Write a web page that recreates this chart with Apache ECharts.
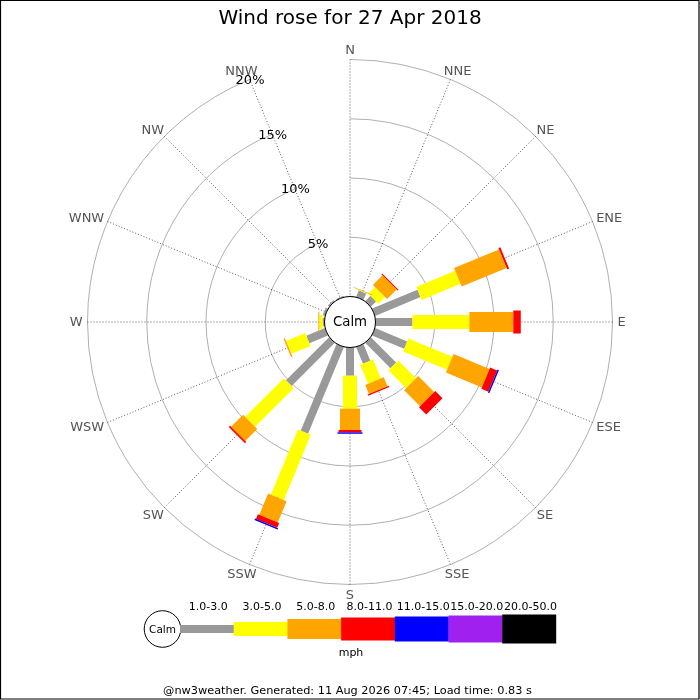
<!DOCTYPE html>
<html>
<head>
<meta charset="utf-8">
<script src="https://cdn.jsdelivr.net/npm/echarts@6/dist/echarts.min.js"></script>
<style>
html,body{margin:0;padding:0;background:#fff;}
#chart{width:700px;height:700px;}
</style>
</head>
<body>
<div id="chart"></div>
<script>
// ---------------- data ----------------
const titleText = 'Wind rose for 27 Apr 2018';
const directions = ['N','NNE','NE','ENE','E','ESE','SE','SSE','S','SSW','SW','WSW','W','WNW','NW','NNW'];
const speedBands = ['1.0-3.0','3.0-5.0','5.0-8.0','8.0-11.0','11.0-15.0','15.0-20.0','20.0-50.0'];
const unitLabel = 'mph';
const calmLabel = 'Calm';
// percentage of time per direction, one array per speed band (mph)
const band1to3   = [0.05, 0.60, 0.63, 4.15, 3.12, 2.94, 3.02, 1.52, 2.38, 7.91, 5.15, 1.70, 0.15, 0.20, 0.15, 0.10];
const band3to5   = [0,    0.05, 0.80, 3.55, 4.80, 4.02, 2.13, 1.73, 2.78, 5.96, 4.61, 1.75, 0.29, 0,    0,    0   ];
const band5to8   = [0,    0.05, 1.14, 4.11, 3.71, 3.29, 1.90, 0.82, 1.80, 1.94, 1.44, 0.12, 0.08, 0,    0,    0   ];
const band8to11  = [0,    0,    0.09, 0.17, 0.63, 0.64, 0.87, 0.11, 0.20, 0.43, 0.15, 0,    0,    0,    0,    0   ];
const band11to15 = [0,    0,    0,    0,    0,    0.12, 0,    0,    0.12, 0.13, 0,    0,    0,    0,    0,    0   ];
const band15to20 = [0,    0,    0,    0,    0,    0,    0,    0,    0,    0,    0,    0,    0,    0,    0,    0   ];
const band20to50 = [0,    0,    0,    0,    0,    0,    0,    0,    0,    0,    0,    0,    0,    0,    0,    0   ];
const radiusTicks = [5, 10, 15, 20];
const footerText = '@nw3weather. Generated: 11 Aug 2026 07:45; Load time: 0.83 s';

// ---------------- styles ----------------
const FONT = '"DejaVu Sans", Verdana, sans-serif';
const bandValues = [band1to3, band3to5, band5to8, band8to11, band11to15, band15to20, band20to50];
const bandColors = ['#999999', '#ffff00', '#ffa500', '#ff0000', '#0000ff', '#a020f0', '#000000'];
const bandWidths = [8, 14, 20, 23, 25, 27, 29];
const labelDirIndex = directions.indexOf('NNW');
const dirFont = '13px ' + FONT;

const measureCtx = document.createElement('canvas').getContext('2d');
function textWidth(txt, font) { measureCtx.font = font; return measureCtx.measureText(txt).width; }

function segRenderer(width, color) {
  return function (params, api) {
    const base = api.value(0), dir = api.value(1), top = api.value(2);
    if (!(top > base)) return null;
    const p0 = api.coord([base, dir]);
    const p1 = api.coord([top, dir]);
    const dx = p1[0] - p0[0], dy = p1[1] - p0[1];
    const len = Math.hypot(dx, dy) || 1;
    const nx = -dy / len * width / 2, ny = dx / len * width / 2;
    return {
      type: 'polygon',
      shape: { points: [
        [p0[0] + nx, p0[1] + ny], [p1[0] + nx, p1[1] + ny],
        [p1[0] - nx, p1[1] - ny], [p0[0] - nx, p0[1] - ny]
      ] },
      style: { fill: color }
    };
  };
}

const series = [];
bandValues.forEach((vals, b) => {
  const data = directions.map((d, i) => {
    let base = 0;
    for (let k = 0; k < b; k++) base += bandValues[k][i];
    return [base, i, base + vals[i]];
  });
  series.push({
    type: 'custom',
    name: speedBands[b],
    coordinateSystem: 'polar',
    encode: { radius: 0, angle: 1 },
    renderItem: segRenderer(bandWidths[b], bandColors[b]),
    data: data,
    silent: true,
    z: 3
  });
});

// radius tick labels along NNW spoke
series.push({
  type: 'custom',
  coordinateSystem: 'polar',
  encode: { radius: 0, angle: 1 },
  data: radiusTicks.map(t => [t, labelDirIndex]),
  renderItem: function (params, api) {
    const p = api.coord([api.value(0), api.value(1)]);
    return {
      type: 'text',
      x: p[0] + 0.5, y: p[1] + 1,
      style: { text: api.value(0) + '%', fill: '#000', font: '13px ' + FONT, align: 'center', verticalAlign: 'middle' }
    };
  },
  silent: true,
  z: 5
});

// direction labels outside the outer ring
series.push({
  type: 'custom',
  coordinateSystem: 'polar',
  encode: { radius: 0, angle: 1 },
  data: directions.map((d, i) => [radiusTicks[radiusTicks.length - 1], i]),
  renderItem: function (params, api) {
    const cs = params.coordSys;
    const i = api.value(1);
    const p = api.coord([api.value(0), i]);
    const dx = p[0] - cs.cx, dy = p[1] - cs.cy;
    const len = Math.hypot(dx, dy) || 1;
    const ux = dx / len, uy = dy / len;
    const R = cs.r + 5;
    const w = textWidth(directions[i], dirFont), h = 10;
    const x = cs.cx + ux * R + ux * w / 2;
    const y = cs.cy + uy * R + uy * h / 2 + 1;
    return {
      type: 'text', x: x, y: y,
      style: { text: directions[i], fill: '#555', font: dirFont, align: 'center', verticalAlign: 'middle' }
    };
  },
  silent: true,
  z: 5
});

// calm circle
series.push({
  type: 'custom',
  coordinateSystem: 'polar',
  encode: { radius: 0, angle: 1 },
  data: [[0, 0]],
  renderItem: function (params, api) {
    const cs = params.coordSys;
    return {
      type: 'group',
      children: [
        { type: 'circle', shape: { cx: cs.cx, cy: cs.cy, r: cs.r0 }, style: { fill: '#fff', stroke: '#000', lineWidth: 1 } },
        { type: 'text', x: cs.cx, y: cs.cy + 1, style: { text: calmLabel, fill: '#000', font: '13.3px ' + FONT, align: 'center', verticalAlign: 'middle' } }
      ]
    };
  },
  silent: true,
  z: 6
});

// ---------------- legend (graphic) ----------------
const graphic = [];
const legX0 = 180, legSegW = 53.7, legCY = 629;
graphic.push({ type: 'circle', shape: { cx: 162.5, cy: legCY, r: 18.3 }, style: { fill: '#fff', stroke: '#000', lineWidth: 1 } });
graphic.push({ type: 'text', x: 162.5, y: legCY + 1, style: { text: calmLabel, fill: '#000', font: '10.5px ' + FONT, align: 'center', verticalAlign: 'middle' } });
speedBands.forEach((lab, b) => {
  const x = legX0 + b * legSegW;
  graphic.push({ type: 'rect', shape: { x: x, y: legCY - bandWidths[b] / 2, width: legSegW + 0.3, height: bandWidths[b] }, style: { fill: bandColors[b] } });
  graphic.push({ type: 'text', x: x + legSegW / 2 + 1.5, y: 607, style: { text: lab, fill: '#000', font: '11px ' + FONT, align: 'center', verticalAlign: 'middle' } });
});
graphic.push({ type: 'text', x: 351, y: 653, style: { text: unitLabel, fill: '#000', font: '11px ' + FONT, align: 'center', verticalAlign: 'middle' } });
graphic.push({ type: 'text', x: 347.5, y: 691, style: { text: footerText, fill: '#000', font: '11.3px ' + FONT, align: 'center', verticalAlign: 'middle' } });
graphic.push({ type: 'rect', shape: { x: 0.5, y: 0.5, width: 698.5, height: 698.5 }, style: { fill: 'none', stroke: '#000', lineWidth: 1.2 }, z: 100 });

const chart = echarts.init(document.getElementById('chart'), null, { renderer: 'canvas' });
chart.setOption({
  animation: false,
  backgroundColor: '#ffffff',
  title: {
    text: titleText, left: 'center', top: 4,
    textStyle: { fontFamily: FONT, fontSize: 20, fontWeight: 'normal', color: '#000' }
  },
  polar: { center: [350, 322], radius: [25.5, 262.5] },
  angleAxis: {
    type: 'category',
    data: directions,
    boundaryGap: false,
    startAngle: 90,
    clockwise: true,
    axisLine: { show: false },
    axisTick: { show: false },
    axisLabel: { show: false },
    splitLine: { show: true, interval: 0, lineStyle: { color: '#333', width: 0.8, type: [1, 2] } }
  },
  radiusAxis: {
    type: 'value', min: 0, max: 20, interval: 5,
    axisLine: { show: false }, axisTick: { show: false }, axisLabel: { show: false },
    splitLine: { show: true, lineStyle: { color: '#b0b0b0', width: 1 } }
  },
  graphic: graphic,
  series: series
});
</script>
</body>
</html>
